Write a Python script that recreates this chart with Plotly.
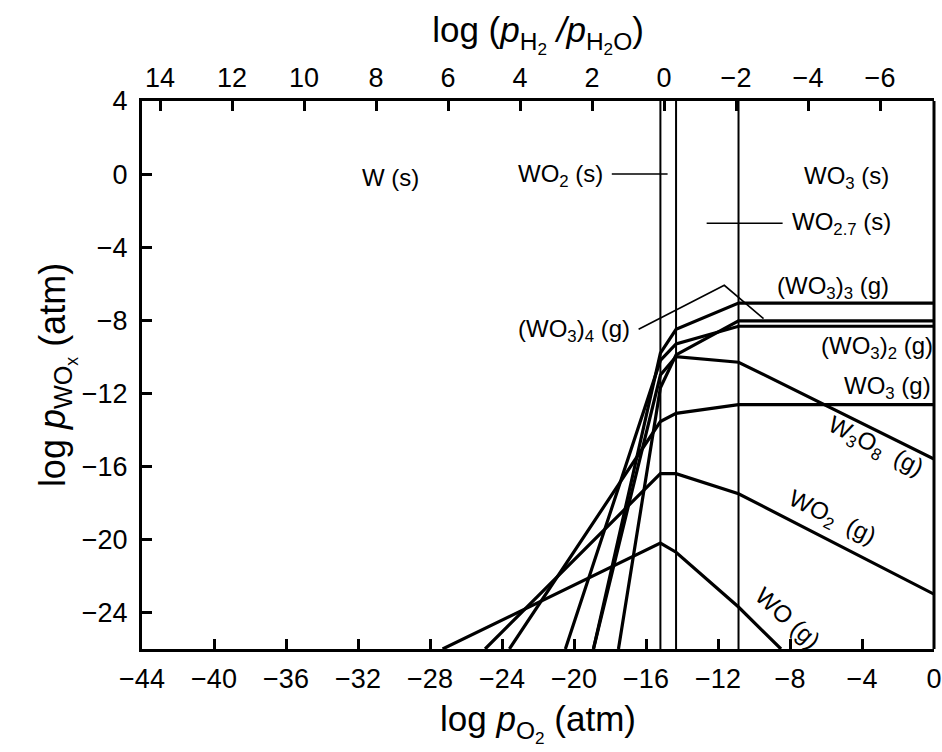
import plotly.graph_objects as go

# Phase boundaries (log pO2) between W / WO2 / WO2.72 / WO3 solids
phase_bounds = [-15.2, -14.33, -10.86]

# Vapour species: log pO2 break points and log p(WOx)
wo_x = [-27.3, -15.2, -14.33, -10.86, -8.5]
wo_y = [-26.0, -20.2, -20.7, -23.7, -26.0]

wo2_x = [-24.94, -15.2, -14.33, -10.86, 0.0]
wo2_y = [-26.0, -16.4, -16.4, -17.5, -23.0]

wo3_x = [-23.59, -15.2, -14.33, -10.86, 0.0]
wo3_y = [-26.0, -13.55, -13.1, -12.62, -12.62]

w3o8_x = [-18.92, -15.2, -14.33, -10.86, 0.0]
w3o8_y = [-26.0, -11.0, -10.0, -10.3, -15.6]

wo3_2_x = [-20.48, -15.2, -14.33, -10.86, 0.0]
wo3_2_y = [-26.0, -10.2, -9.3, -8.33, -8.33]

wo3_3_x = [-18.92, -15.2, -14.33, -10.86, 0.0]
wo3_3_y = [-26.0, -9.8, -8.5, -7.06, -7.06]

wo3_4_x = [-17.53, -15.2, -14.33, -10.86, 0.0]
wo3_4_y = [-26.0, -11.7, -9.9, -8.04, -8.04]

# Axis ticks
x_ticks = list(range(-44, 1, 4))
y_ticks = list(range(-24, 5, 4))
h2_ratio_ticks = [14, 12, 10, 8, 6, 4, 2, 0, -2, -4, -6]
pO2_at_ratio_zero = -15.0   # log pO2 where log(pH2/pH2O) = 0

# Leader lines for labels
wo2s_leader_x = [-17.9, -14.8]
wo2s_leader_y = [0.0, 0.0]
wo27s_leader_x = [-12.63, -8.41]
wo27s_leader_y = [-2.69, -2.69]
wo3_4_leader_x = [-16.41, -11.65, -9.47]
wo3_4_leader_y = [-8.5, -6.09, -7.91]

X_RANGE = [-44, 0]
Y_RANGE = [-26, 4]
FONT = "Liberation Sans, Arial, sans-serif"

fig = go.Figure()

# phase boundary verticals
for xb in phase_bounds:
    fig.add_trace(go.Scatter(x=[xb, xb], y=Y_RANGE, mode="lines",
                             line=dict(color="black", width=2),
                             hoverinfo="skip", showlegend=False))

species = [
    ("WO", wo_x, wo_y),
    ("WO2", wo2_x, wo2_y),
    ("WO3", wo3_x, wo3_y),
    ("W3O8", w3o8_x, w3o8_y),
    ("(WO3)2", wo3_2_x, wo3_2_y),
    ("(WO3)3", wo3_3_x, wo3_3_y),
    ("(WO3)4", wo3_4_x, wo3_4_y),
]
for name, xs, ys in species:
    fig.add_trace(go.Scatter(x=xs, y=ys, mode="lines", name=name,
                             line=dict(color="black", width=3.2),
                             showlegend=False))

for lx, ly in [(wo2s_leader_x, wo2s_leader_y),
               (wo27s_leader_x, wo27s_leader_y),
               (wo3_4_leader_x, wo3_4_leader_y)]:
    fig.add_trace(go.Scatter(x=lx, y=ly, mode="lines",
                             line=dict(color="black", width=1.6),
                             hoverinfo="skip", showlegend=False))

# top axis carrier (invisible)
fig.add_trace(go.Scatter(x=X_RANGE, y=[None, None], xaxis="x2", mode="lines",
                         hoverinfo="skip", showlegend=False))

labels = [
    dict(x=-30.2, y=-0.2, text="W (s)", xanchor="center"),
    dict(x=-18.3, y=-0.1, text="WO<sub>2</sub> (s)", xanchor="right"),
    dict(x=-4.87, y=-0.2, text="WO<sub>3</sub> (s)", xanchor="center"),
    dict(x=-8.0, y=-2.7, text="WO<sub>2.7</sub> (s)", xanchor="left"),
    dict(x=-5.6, y=-6.2, text="(WO<sub>3</sub>)<sub>3</sub> (g)", xanchor="center"),
    dict(x=-3.17, y=-9.5, text="(WO<sub>3</sub>)<sub>2</sub> (g)", xanchor="center"),
    dict(x=-2.6, y=-11.66, text="WO<sub>3</sub> (g)", xanchor="center"),
    dict(x=-20.0, y=-8.55, text="(WO<sub>3</sub>)<sub>4</sub> (g)", xanchor="center"),
    dict(x=-3.24, y=-14.95, text="W<sub>3</sub>O<sub>8</sub>  (g)", xanchor="center", textangle=27),
    dict(x=-5.67, y=-18.88, text="WO<sub>2</sub>  (g)", xanchor="center", textangle=26),
    dict(x=-8.15, y=-24.3, text="WO (g)", xanchor="center", textangle=42),
]
for lab in labels:
    fig.add_annotation(xref="x", yref="y", showarrow=False, yanchor="middle",
                       font=dict(family=FONT, size=24, color="black"), **lab)

axis_common = dict(
    showgrid=False, zeroline=False, showline=True, linecolor="black",
    linewidth=3, ticks="inside", ticklen=10, tickwidth=2.5, tickcolor="black",
    tickfont=dict(family=FONT, size=27, color="black"), automargin=False,
)

fig.update_layout(
    width=942, height=752,
    margin=dict(l=142, r=8, t=101, b=103),
    plot_bgcolor="white", paper_bgcolor="white",
    xaxis=dict(range=X_RANGE, tickvals=x_ticks, mirror=False,
               title=dict(text="log <i>p</i><sub>O<sub>2</sub></sub> (atm)",
                          font=dict(family=FONT, size=35, color="black"),
                          standoff=14),
               ticklabelstandoff=4, **axis_common),
    xaxis2=dict(range=X_RANGE, overlaying="x", side="top",
                tickvals=[pO2_at_ratio_zero - 2 * t for t in h2_ratio_ticks],
                ticktext=[str(t).replace("-", "\u2212") for t in h2_ratio_ticks],
                title=dict(text="log (<i>p</i><sub>H<sub>2</sub></sub> <i>/p</i><sub>H<sub>2</sub>O</sub>)",
                           font=dict(family=FONT, size=35, color="black"),
                           standoff=10),
                **axis_common),
    yaxis=dict(range=Y_RANGE, tickvals=y_ticks, mirror=False,
               title=dict(text="log <i>p</i><sub>WO<sub>x</sub></sub> (atm)",
                          font=dict(family=FONT, size=36, color="black"),
                          standoff=2),
               ticklabelstandoff=6, **axis_common),
)

# right border without ticks
fig.add_shape(type="line", xref="paper", yref="paper", x0=1, x1=1, y0=0, y1=1,
              line=dict(color="black", width=3))

fig.write_html("out.html")
